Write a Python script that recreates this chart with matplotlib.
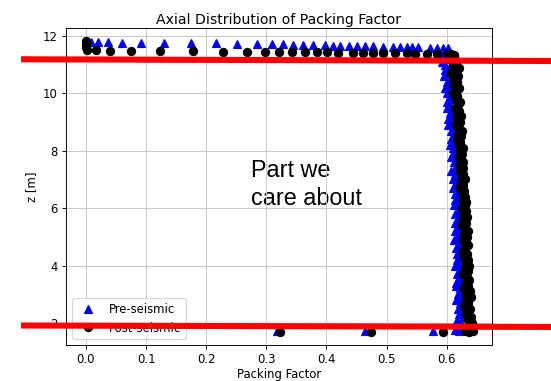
import matplotlib
matplotlib.use("Agg")
import matplotlib.pyplot as plt
from matplotlib.lines import Line2D

# ---- packing factor data ----------------------------------------------
# top free-surface layer
pre_top_x = [0.008, 0.020, 0.037, 0.060, 0.092, 0.130, 0.175, 0.216, 0.251,
             0.285, 0.310, 0.328, 0.344, 0.361, 0.378, 0.398, 0.411, 0.423,
             0.438, 0.451, 0.464, 0.478, 0.494, 0.511, 0.522, 0.534, 0.542,
             0.552, 0.572, 0.584, 0.594, 0.602]
pre_top_z = [11.80, 11.79, 11.78, 11.77, 11.76, 11.76, 11.75, 11.74, 11.73,
             11.73, 11.72, 11.71, 11.70, 11.68, 11.68, 11.67, 11.66, 11.66,
             11.65, 11.65, 11.64, 11.64, 11.63, 11.63, 11.62, 11.62, 11.61,
             11.61, 11.60, 11.60, 11.59, 11.58]

post_top_x = [0.000, 0.000, 0.000, 0.002, 0.017, 0.040, 0.075, 0.123, 0.178,
              0.228, 0.268, 0.298, 0.321, 0.343, 0.364, 0.384, 0.401, 0.419,
              0.444, 0.461, 0.478, 0.494, 0.514, 0.534, 0.547, 0.567, 0.584,
              0.601, 0.608, 0.612]
post_top_z = [11.82, 11.72, 11.62, 11.52, 11.50, 11.49, 11.48, 11.48, 11.47,
              11.46, 11.46, 11.45, 11.45, 11.44, 11.44, 11.43, 11.43, 11.42,
              11.42, 11.41, 11.41, 11.40, 11.40, 11.40, 11.39, 11.39, 11.38,
              11.37, 11.36, 11.33]

# bulk of the bed
col_z = [11.3, 11.2, 11.1, 11.0, 10.9, 10.8, 10.7, 10.6, 10.5, 10.4,
         10.3, 10.2, 10.1, 10.0, 9.9, 9.8, 9.7, 9.6, 9.5, 9.4,
         9.3, 9.2, 9.1, 9.0, 8.9, 8.8, 8.7, 8.6, 8.5, 8.4,
         8.3, 8.2, 8.1, 8.0, 7.9, 7.8, 7.7, 7.6, 7.5, 7.4,
         7.3, 7.2, 7.1, 7.0, 6.9, 6.8, 6.7, 6.6, 6.5, 6.4,
         6.3, 6.2, 6.1, 6.0, 5.9, 5.8, 5.7, 5.6, 5.5, 5.4,
         5.3, 5.2, 5.1, 5.0, 4.9, 4.8, 4.7, 4.6, 4.5, 4.4,
         4.3, 4.2, 4.1, 4.0, 3.9, 3.8, 3.7, 3.6, 3.5, 3.4,
         3.3, 3.2, 3.1, 3.0, 2.9, 2.8, 2.7, 2.6, 2.5, 2.4,
         2.3, 2.2, 2.1, 2.0, 1.9]

pre_col_x = [0.593, 0.600, 0.592, 0.598, 0.604, 0.597, 0.602, 0.596, 0.605, 0.600,
             0.603, 0.597, 0.607, 0.601, 0.606, 0.610, 0.601, 0.605, 0.601, 0.609,
             0.605, 0.611, 0.603, 0.609, 0.602, 0.612, 0.607, 0.615, 0.610, 0.607,
             0.613, 0.606, 0.611, 0.616, 0.610, 0.607, 0.616, 0.612, 0.619, 0.614,
             0.608, 0.614, 0.618, 0.611, 0.619, 0.614, 0.611, 0.618, 0.614, 0.622,
             0.614, 0.619, 0.612, 0.623, 0.619, 0.614, 0.622, 0.618, 0.614, 0.621,
             0.618, 0.614, 0.623, 0.617, 0.613, 0.621, 0.624, 0.616, 0.620, 0.617,
             0.623, 0.617, 0.621, 0.614, 0.624, 0.620, 0.617, 0.626, 0.619, 0.616,
             0.616, 0.622, 0.626, 0.619, 0.623, 0.616, 0.622, 0.626, 0.619, 0.625,
             0.621, 0.627, 0.617, 0.624, 0.619]

post_col_x = [0.612, 0.605, 0.616, 0.610, 0.620, 0.615, 0.608, 0.619, 0.613, 0.617,
              0.612, 0.620, 0.616, 0.611, 0.618, 0.615, 0.622, 0.619, 0.614, 0.621,
              0.618, 0.624, 0.617, 0.622, 0.615, 0.621, 0.625, 0.619, 0.624, 0.618,
              0.623, 0.620, 0.628, 0.623, 0.626, 0.620, 0.624, 0.628, 0.623, 0.627,
              0.622, 0.628, 0.625, 0.631, 0.624, 0.628, 0.623, 0.629, 0.628, 0.631,
              0.627, 0.632, 0.630, 0.626, 0.632, 0.629, 0.634, 0.627, 0.632, 0.626,
              0.630, 0.635, 0.629, 0.634, 0.627, 0.632, 0.635, 0.630, 0.627, 0.634,
              0.629, 0.635, 0.632, 0.638, 0.631, 0.635, 0.628, 0.634, 0.638, 0.633,
              0.636, 0.629, 0.639, 0.633, 0.641, 0.633, 0.636, 0.629, 0.639, 0.636,
              0.632, 0.641, 0.635, 0.643, 0.638]

# bottom layer
pre_bot_x = [0.317, 0.465, 0.577, 0.614, 0.620, 0.626]
pre_bot_z = [1.72, 1.72, 1.72, 1.74, 1.72, 1.75]
post_bot_x = [0.323, 0.475, 0.594, 0.630, 0.637, 0.644]
post_bot_z = [1.70, 1.70, 1.70, 1.72, 1.70, 1.73]

# highlighted axial range (hand-drawn guide lines)
guide_x = [-0.108, 0.774]
guide_upper_z = [11.19, 11.13]
guide_lower_z = [1.91, 1.86]

pre_x = pre_top_x + pre_col_x + pre_bot_x
pre_z = pre_top_z + col_z + pre_bot_z
post_x = post_top_x + post_col_x + post_bot_x
post_z = post_top_z + col_z + post_bot_z

# ---- figure --------------------------------------------------------------
DPI = 84
fig = plt.figure(figsize=(551 / DPI, 381 / DPI), dpi=DPI)
ax = fig.add_axes([66 / 551, 1 - 345 / 381, (492 - 66) / 551, (345 - 28) / 381])

ax.plot(pre_x, pre_z, "b^", markersize=7, label="Pre-seismic")
ax.plot(post_x, post_z, "ko", markersize=7, label="Post-seismic")

ax.set_xlim(-0.0332, 0.6755)
ax.set_ylim(1.23, 12.28)
ax.set_xlabel("Packing Factor", labelpad=1.5)
ax.set_ylabel("z [m]")
ax.set_title("Axial Distribution of Packing Factor", pad=3.5)
ax.grid(True, color="#c8c8c8")
ax.legend(loc="lower left")

ax.text(0.2745, 7.10, "Part we", fontsize=20, family="Liberation Sans",
        zorder=1)
ax.text(0.2745, 6.11, "care about", fontsize=20, family="Liberation Sans",
        zorder=1)

for zs in (guide_upper_z, guide_lower_z):
    ax.add_line(Line2D(guide_x, zs, color="#ff0000", linewidth=5.2,
                       solid_capstyle="butt", clip_on=False, zorder=10))

fig.savefig("out.png", dpi=DPI)
